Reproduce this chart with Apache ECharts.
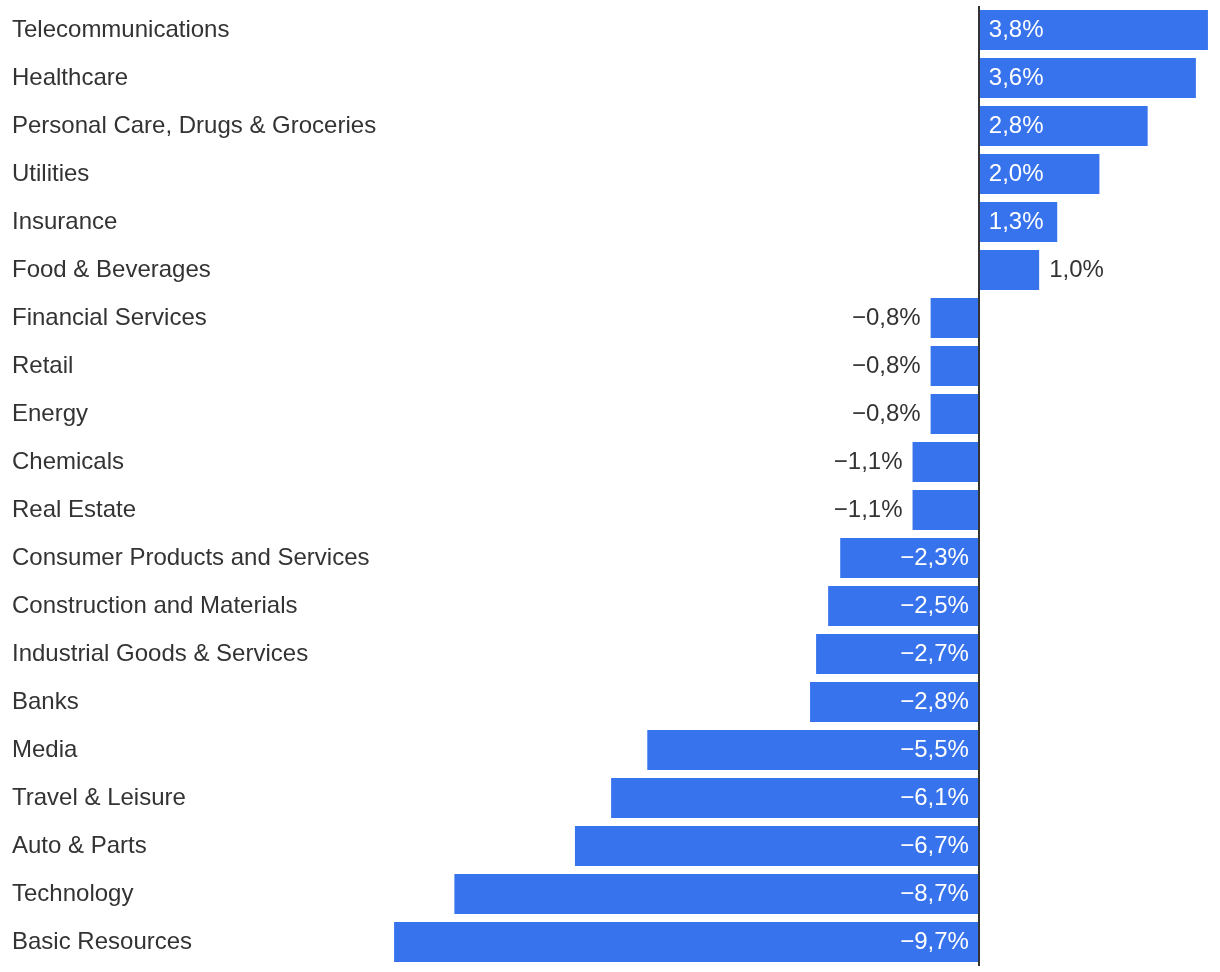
<!DOCTYPE html>
<html>
<head>
<meta charset="utf-8">
<title>Sector performance</title>
<script src="https://cdn.jsdelivr.net/npm/echarts@6/dist/echarts.min.js"></script>
<style>
  html, body { margin: 0; padding: 0; background: #fff; }
  #chart { width: 1220px; height: 972px; }
</style>
</head>
<body>
<div id="chart"></div>
<script>
// sectors, top to bottom
const sectors = [
  "Telecommunications", "Healthcare", "Personal Care, Drugs & Groceries",
  "Utilities", "Insurance", "Food & Beverages", "Financial Services",
  "Retail", "Energy", "Chemicals", "Real Estate",
  "Consumer Products and Services", "Construction and Materials",
  "Industrial Goods & Services", "Banks", "Media", "Travel & Leisure",
  "Auto & Parts", "Technology", "Basic Resources"
];
// change in %
const changes = [
  3.8, 3.6, 2.8, 2.0, 1.3, 1.0, -0.8, -0.8, -0.8, -1.1, -1.1,
  -2.3, -2.5, -2.7, -2.8, -5.5, -6.1, -6.7, -8.7, -9.7
];

const FONT = "'Liberation Sans', Arial, Helvetica, sans-serif";
const BLUE = "#3873ee";

function fmt(v) {
  const s = Math.abs(v).toFixed(1).replace(".", ",") + "%";
  return v < 0 ? "\u2212" + s : s;
}

// short bars get their label outside, long ones inside
function labelFor(v) {
  let position, color;
  if (v >= 1.2) { position = "insideLeft"; color = "#fff"; }
  else if (v > 0) { position = "right"; color = "#333"; }
  else if (v > -2) { position = "left"; color = "#333"; }
  else { position = "insideRight"; color = "#fff"; }
  return { show: true, position: position, color: color, distance: 10 };
}

const chart = echarts.init(document.getElementById("chart"));
chart.setOption({
  animation: false,
  grid: { left: 376, width: 844, top: 6, height: 960 },
  xAxis: {
    type: "value",
    min: -10,
    max: 4,
    show: false
  },
  yAxis: {
    type: "category",
    data: sectors,
    inverse: true,
    axisLine: { show: false },
    axisTick: { show: false },
    axisLabel: {
      align: "left",
      margin: 364,
      color: "#333",
      fontSize: 24,
      fontFamily: FONT
    }
  },
  series: [
    {
      type: "bar",
      barWidth: 40,
      itemStyle: { color: BLUE },
      label: {
        fontSize: 24,
        fontFamily: FONT,
        formatter: (p) => fmt(p.value)
      },
      data: changes.map((v) => ({ value: v, label: labelFor(v) })),
      markLine: {
        silent: true,
        symbol: "none",
        label: { show: false },
        lineStyle: { color: "#333", width: 2, type: "solid" },
        data: [{ xAxis: 0 }]
      }
    }
  ]
});
</script>
</body>
</html>
